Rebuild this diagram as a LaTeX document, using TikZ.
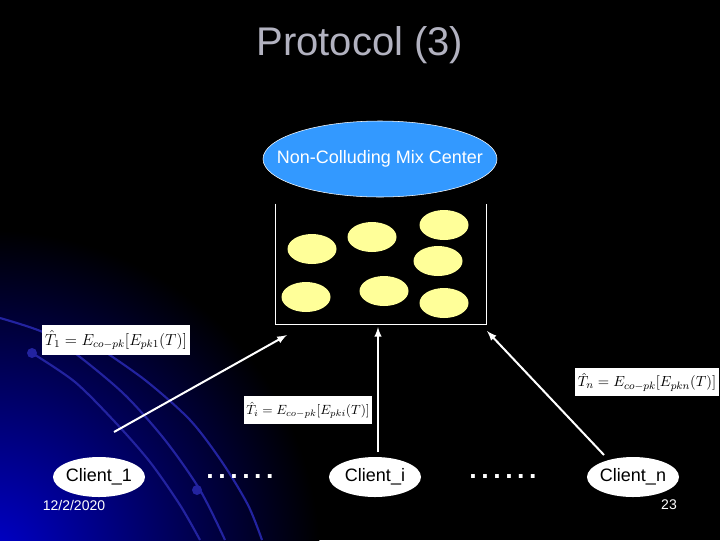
\documentclass[tikz,border=0pt]{standalone}
\usepackage{amsmath, amssymb}
\usepackage{fontspec}
\setmainfont{Liberation Sans}
\usepackage{tikz}
\tikzset{every node/.style={inner sep=2pt, text=white, font=\fontsize{13.5}{16}\selectfont}}
\usetikzlibrary{arrows, shapes.geometric}
\definecolor{mixblue}{RGB}{51,153,255}
\definecolor{seedyellow}{RGB}{255,255,153}
\definecolor{titlegray}{RGB}{178,178,192}
\definecolor{arcblue}{RGB}{35,35,160}
\definecolor{deepblue}{RGB}{0,0,205}
\tikzset{
  client/.style={ellipse, fill=white, text=black, inner sep=0pt, minimum width=69pt, minimum height=30pt},
  seed/.style={ellipse, fill=seedyellow, minimum width=36.75pt, minimum height=22.5pt},
  formula/.style={fill=white, text=black, inner xsep=2pt, inner ysep=4pt},
  wire/.style={white, line width=1.5pt, -latex},
  swirl/.style={arcblue, line width=1.6pt}
}
\newcommand{\tx}[1]{\hat{T}_{#1} = E_{co-pk}[E_{pk#1}(T)]}
\newcommand{\dotrow}{.\hspace{3.4pt}.\hspace{3.4pt}.\hspace{3.4pt}.\hspace{3.4pt}.\hspace{3.4pt}.}

\begin{document}
\begin{tikzpicture}[x=0.75pt, y=-0.75pt]
\fill[black] (0,0) rectangle (720,540);
\useasboundingbox (0,0) rectangle (720,540);

% background glow and swirls
\begin{scope}
\clip (0,0) rectangle (720,540);
\shade[inner color=deepblue, outer color=black] (-10,560) circle (330);
\draw[swirl] plot[smooth] coordinates {(0,318) (45,333) (80,357) (125,395) (165,440) (200,490) (225,540)};
\draw[swirl] plot[smooth] coordinates {(32,353) (75,382) (115,422) (150,462) (180,505) (200,540)};
\draw[swirl] plot[smooth] coordinates {(95,345) (145,380) (190,420) (222,462) (248,505) (262,540)};
\fill[arcblue] (32,353) circle (5);
\fill[arcblue] (197,490) circle (5);
\end{scope}

\node[text=titlegray, font=\fontsize{30}{36}\selectfont] (title) at (360,45) {Protocol (3)};

\node[ellipse, draw=white, fill=mixblue, inner sep=0pt, minimum width=175.5pt, minimum height=57pt] (mix) at (380,159) {\makebox[0pt]{Non-Colluding Mix Center}};

% mixing pool
\node[minimum width=157.5pt, minimum height=90pt] (pool) at (381,264) {};
\draw[white, line width=1pt] (pool.north west) -- (pool.south west) -- (pool.south east) -- (pool.north east);
\foreach \x/\y [count=\k] in {312/249, 372/237, 444/225, 438/261, 306/297, 384/291, 444/303}
  \node[seed] (m\k) at (\x,\y) {};

% clients
\node[client] (c1) at (99,477) {\makebox[0pt]{Client\_1}};
\node[client] (ci) at (375,477) {\makebox[0pt]{Client\_i}};
\node[client] (cn) at (633,477) {\makebox[0pt]{Client\_n}};
\node[font=\fontsize{20}{20}\bfseries] (d1) at (240,477) {\dotrow};
\node[font=\fontsize{20}{20}\bfseries] (d2) at (503,477) {\dotrow};

\coordinate (a1) at (114,432);
\coordinate (b1) at (287,335);
\coordinate (ai) at (378,452);
\coordinate (bi) at (378,327);
\coordinate (an) at (604,455);
\coordinate (bn) at (487,331);
\draw[wire] (a1) -- (b1);
\draw[wire] (ai) -- (bi);
\draw[wire] (an) -- (bn);

\node[formula, font=\fontsize{11.6}{14}\selectfont] (f1) at (116,340) {$\tx{1}$};
\node[formula, font=\fontsize{9.8}{12}\selectfont] (fi) at (308,410) {$\tx{i}$};
\node[formula, font=\fontsize{11.2}{14}\selectfont] (fn) at (647,382) {$\tx{n}$};

\node[font=\fontsize{10.5}{12}\selectfont] (date) at (74,505) {12/2/2020};
\node[font=\fontsize{10.5}{12}\selectfont] (page) at (669,505) {23};

\end{tikzpicture}
\end{document}
